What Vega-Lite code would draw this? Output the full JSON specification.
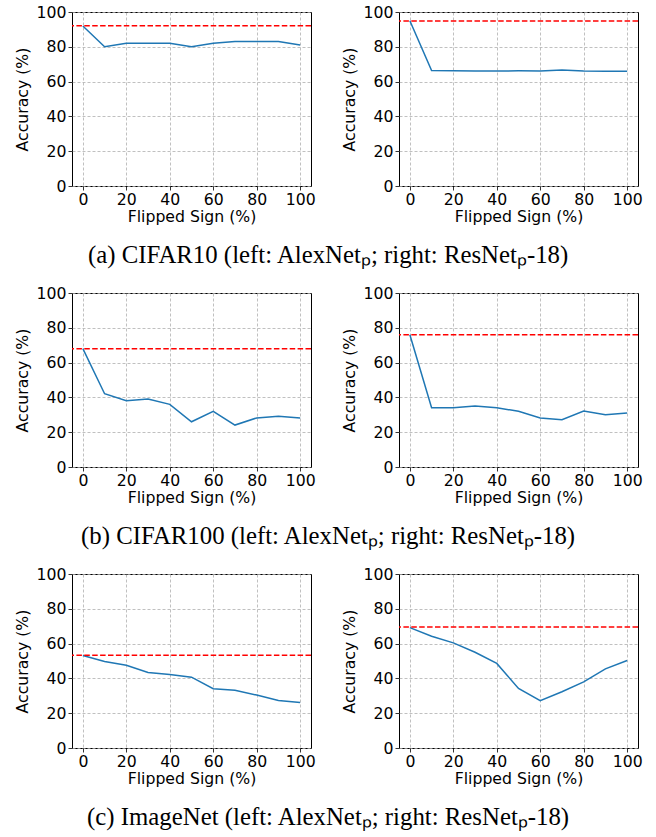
{
  "$schema": "https://vega.github.io/schema/vega-lite/v6.json",
  "padding": {"left": 13, "top": 3, "right": 5, "bottom": 5},
  "background": "white",
  "spacing": 16,
  "datasets": {
    "lines": [
      {"p": "c10a", "x": 0, "acc": 92}, {"p": "c10a", "x": 10, "acc": 80}, {"p": "c10a", "x": 20, "acc": 82}, {"p": "c10a", "x": 30, "acc": 82}, {"p": "c10a", "x": 40, "acc": 82}, {"p": "c10a", "x": 50, "acc": 80}, {"p": "c10a", "x": 60, "acc": 82}, {"p": "c10a", "x": 70, "acc": 83}, {"p": "c10a", "x": 80, "acc": 83}, {"p": "c10a", "x": 90, "acc": 83}, {"p": "c10a", "x": 100, "acc": 81},
      {"p": "c10r", "x": 0, "acc": 95}, {"p": "c10r", "x": 10, "acc": 66.4}, {"p": "c10r", "x": 20, "acc": 66.2}, {"p": "c10r", "x": 30, "acc": 66.1}, {"p": "c10r", "x": 40, "acc": 66.1}, {"p": "c10r", "x": 50, "acc": 66.2}, {"p": "c10r", "x": 60, "acc": 66.1}, {"p": "c10r", "x": 70, "acc": 66.6}, {"p": "c10r", "x": 80, "acc": 66.1}, {"p": "c10r", "x": 90, "acc": 66}, {"p": "c10r", "x": 100, "acc": 65.9},
      {"p": "c100a", "x": 0, "acc": 68}, {"p": "c100a", "x": 10, "acc": 42.1}, {"p": "c100a", "x": 20, "acc": 38.1}, {"p": "c100a", "x": 30, "acc": 39.1}, {"p": "c100a", "x": 40, "acc": 36}, {"p": "c100a", "x": 50, "acc": 26}, {"p": "c100a", "x": 60, "acc": 32}, {"p": "c100a", "x": 70, "acc": 24.1}, {"p": "c100a", "x": 80, "acc": 28.2}, {"p": "c100a", "x": 90, "acc": 29.1}, {"p": "c100a", "x": 100, "acc": 28.2},
      {"p": "c100r", "x": 0, "acc": 76}, {"p": "c100r", "x": 10, "acc": 34.1}, {"p": "c100r", "x": 20, "acc": 34.1}, {"p": "c100r", "x": 30, "acc": 35}, {"p": "c100r", "x": 40, "acc": 34.1}, {"p": "c100r", "x": 50, "acc": 32}, {"p": "c100r", "x": 60, "acc": 28.2}, {"p": "c100r", "x": 70, "acc": 27.2}, {"p": "c100r", "x": 80, "acc": 32.2}, {"p": "c100r", "x": 90, "acc": 30}, {"p": "c100r", "x": 100, "acc": 31},
      {"p": "ina", "x": 0, "acc": 53.2}, {"p": "ina", "x": 10, "acc": 49.7}, {"p": "ina", "x": 20, "acc": 47.6}, {"p": "ina", "x": 30, "acc": 43.4}, {"p": "ina", "x": 40, "acc": 42.3}, {"p": "ina", "x": 50, "acc": 40.7}, {"p": "ina", "x": 60, "acc": 34.1}, {"p": "ina", "x": 70, "acc": 33.2}, {"p": "ina", "x": 80, "acc": 30.4}, {"p": "ina", "x": 90, "acc": 27.3}, {"p": "ina", "x": 100, "acc": 26.2},
      {"p": "inr", "x": 0, "acc": 69.2}, {"p": "inr", "x": 10, "acc": 64.2}, {"p": "inr", "x": 20, "acc": 60.4}, {"p": "inr", "x": 30, "acc": 55}, {"p": "inr", "x": 40, "acc": 48.6}, {"p": "inr", "x": 50, "acc": 34.2}, {"p": "inr", "x": 60, "acc": 27.2}, {"p": "inr", "x": 70, "acc": 32.3}, {"p": "inr", "x": 80, "acc": 38}, {"p": "inr", "x": 90, "acc": 45.5}, {"p": "inr", "x": 100, "acc": 50.3}
    ],
    "base": [
      {"p": "c10a", "acc": 92.1}, {"p": "c10r", "acc": 94.8},
      {"p": "c100a", "acc": 68}, {"p": "c100r", "acc": 76},
      {"p": "ina", "acc": 53.3}, {"p": "inr", "acc": 69.6}
    ]
  },
  "config": {
    "view": {"stroke": "black", "strokeWidth": 1},
    "axis": {
      "labelFont": "DejaVu Sans", "labelFontSize": 15.7, "labelColor": "black", "labelOverlap": false,
      "titleFont": "DejaVu Sans", "titleFontSize": 15.7, "titleFontWeight": "normal", "titleColor": "black",
      "domain": false, "tickColor": "black", "tickSize": 4, "tickWidth": 0.8, "labelPadding": 2,
      "grid": true, "gridDash": [3, 2], "gridColor": "#b0b0b0", "gridWidth": 0.8
    },
    "axisY": {"titlePadding": 6},
    "axisX": {"titlePadding": 3},
    "title": {"font": "Liberation Serif", "fontSize": 24.8, "fontWeight": "normal", "color": "black", "anchor": "middle", "orient": "bottom", "offset": 18}
  },
  "vconcat": [
    {
      "title": {"text": "(a) CIFAR10 (left: AlexNetₚ; right: ResNetₚ-18)"},
      "spacing": 24,
      "hconcat": [
        {"width": 239, "height": 174, "layer": [
          {"data": {"name": "lines"}, "transform": [{"filter": "datum.p == 'c10a'"}], "mark": {"type": "line", "color": "#1f77b4", "strokeWidth": 1.5},
           "encoding": {"x": {"field": "x", "type": "quantitative", "title": "Flipped Sign (%)", "scale": {"domain": [-5, 105], "nice": false}, "axis": {"values": [0, 20, 40, 60, 80, 100], "labelOverlap": false}},
                        "y": {"field": "acc", "type": "quantitative", "title": "Accuracy (%)", "scale": {"domain": [0, 100], "nice": false}, "axis": {"values": [0, 20, 40, 60, 80, 100], "labelOverlap": false}}}},
          {"data": {"name": "base"}, "transform": [{"filter": "datum.p == 'c10a'"}], "mark": {"type": "rule", "color": "red", "strokeWidth": 1.5, "strokeDash": [5.5, 2.4]},
           "encoding": {"y": {"field": "acc", "type": "quantitative", "title": "Accuracy (%)", "scale": {"domain": [0, 100], "nice": false}, "axis": {"values": [0, 20, 40, 60, 80, 100], "labelOverlap": false}}}}
        ]},
        {"width": 239, "height": 174, "layer": [
          {"data": {"name": "lines"}, "transform": [{"filter": "datum.p == 'c10r'"}], "mark": {"type": "line", "color": "#1f77b4", "strokeWidth": 1.5},
           "encoding": {"x": {"field": "x", "type": "quantitative", "title": "Flipped Sign (%)", "scale": {"domain": [-5, 105], "nice": false}, "axis": {"values": [0, 20, 40, 60, 80, 100], "labelOverlap": false}},
                        "y": {"field": "acc", "type": "quantitative", "title": "Accuracy (%)", "scale": {"domain": [0, 100], "nice": false}, "axis": {"values": [0, 20, 40, 60, 80, 100], "labelOverlap": false}}}},
          {"data": {"name": "base"}, "transform": [{"filter": "datum.p == 'c10r'"}], "mark": {"type": "rule", "color": "red", "strokeWidth": 1.5, "strokeDash": [5.5, 2.4]},
           "encoding": {"y": {"field": "acc", "type": "quantitative", "title": "Accuracy (%)", "scale": {"domain": [0, 100], "nice": false}, "axis": {"values": [0, 20, 40, 60, 80, 100], "labelOverlap": false}}}}
        ]}
      ]
    },
    {
      "title": {"text": "(b) CIFAR100 (left: AlexNetₚ; right: ResNetₚ-18)"},
      "spacing": 24,
      "hconcat": [
        {"width": 239, "height": 174, "layer": [
          {"data": {"name": "lines"}, "transform": [{"filter": "datum.p == 'c100a'"}], "mark": {"type": "line", "color": "#1f77b4", "strokeWidth": 1.5},
           "encoding": {"x": {"field": "x", "type": "quantitative", "title": "Flipped Sign (%)", "scale": {"domain": [-5, 105], "nice": false}, "axis": {"values": [0, 20, 40, 60, 80, 100], "labelOverlap": false}},
                        "y": {"field": "acc", "type": "quantitative", "title": "Accuracy (%)", "scale": {"domain": [0, 100], "nice": false}, "axis": {"values": [0, 20, 40, 60, 80, 100], "labelOverlap": false}}}},
          {"data": {"name": "base"}, "transform": [{"filter": "datum.p == 'c100a'"}], "mark": {"type": "rule", "color": "red", "strokeWidth": 1.5, "strokeDash": [5.5, 2.4]},
           "encoding": {"y": {"field": "acc", "type": "quantitative", "title": "Accuracy (%)", "scale": {"domain": [0, 100], "nice": false}, "axis": {"values": [0, 20, 40, 60, 80, 100], "labelOverlap": false}}}}
        ]},
        {"width": 239, "height": 174, "layer": [
          {"data": {"name": "lines"}, "transform": [{"filter": "datum.p == 'c100r'"}], "mark": {"type": "line", "color": "#1f77b4", "strokeWidth": 1.5},
           "encoding": {"x": {"field": "x", "type": "quantitative", "title": "Flipped Sign (%)", "scale": {"domain": [-5, 105], "nice": false}, "axis": {"values": [0, 20, 40, 60, 80, 100], "labelOverlap": false}},
                        "y": {"field": "acc", "type": "quantitative", "title": "Accuracy (%)", "scale": {"domain": [0, 100], "nice": false}, "axis": {"values": [0, 20, 40, 60, 80, 100], "labelOverlap": false}}}},
          {"data": {"name": "base"}, "transform": [{"filter": "datum.p == 'c100r'"}], "mark": {"type": "rule", "color": "red", "strokeWidth": 1.5, "strokeDash": [5.5, 2.4]},
           "encoding": {"y": {"field": "acc", "type": "quantitative", "title": "Accuracy (%)", "scale": {"domain": [0, 100], "nice": false}, "axis": {"values": [0, 20, 40, 60, 80, 100], "labelOverlap": false}}}}
        ]}
      ]
    },
    {
      "title": {"text": "(c) ImageNet (left: AlexNetₚ; right: ResNetₚ-18)"},
      "spacing": 24,
      "hconcat": [
        {"width": 239, "height": 174, "layer": [
          {"data": {"name": "lines"}, "transform": [{"filter": "datum.p == 'ina'"}], "mark": {"type": "line", "color": "#1f77b4", "strokeWidth": 1.5},
           "encoding": {"x": {"field": "x", "type": "quantitative", "title": "Flipped Sign (%)", "scale": {"domain": [-5, 105], "nice": false}, "axis": {"values": [0, 20, 40, 60, 80, 100], "labelOverlap": false}},
                        "y": {"field": "acc", "type": "quantitative", "title": "Accuracy (%)", "scale": {"domain": [0, 100], "nice": false}, "axis": {"values": [0, 20, 40, 60, 80, 100], "labelOverlap": false}}}},
          {"data": {"name": "base"}, "transform": [{"filter": "datum.p == 'ina'"}], "mark": {"type": "rule", "color": "red", "strokeWidth": 1.5, "strokeDash": [5.5, 2.4]},
           "encoding": {"y": {"field": "acc", "type": "quantitative", "title": "Accuracy (%)", "scale": {"domain": [0, 100], "nice": false}, "axis": {"values": [0, 20, 40, 60, 80, 100], "labelOverlap": false}}}}
        ]},
        {"width": 239, "height": 174, "layer": [
          {"data": {"name": "lines"}, "transform": [{"filter": "datum.p == 'inr'"}], "mark": {"type": "line", "color": "#1f77b4", "strokeWidth": 1.5},
           "encoding": {"x": {"field": "x", "type": "quantitative", "title": "Flipped Sign (%)", "scale": {"domain": [-5, 105], "nice": false}, "axis": {"values": [0, 20, 40, 60, 80, 100], "labelOverlap": false}},
                        "y": {"field": "acc", "type": "quantitative", "title": "Accuracy (%)", "scale": {"domain": [0, 100], "nice": false}, "axis": {"values": [0, 20, 40, 60, 80, 100], "labelOverlap": false}}}},
          {"data": {"name": "base"}, "transform": [{"filter": "datum.p == 'inr'"}], "mark": {"type": "rule", "color": "red", "strokeWidth": 1.5, "strokeDash": [5.5, 2.4]},
           "encoding": {"y": {"field": "acc", "type": "quantitative", "title": "Accuracy (%)", "scale": {"domain": [0, 100], "nice": false}, "axis": {"values": [0, 20, 40, 60, 80, 100], "labelOverlap": false}}}}
        ]}
      ]
    }
  ]
}
